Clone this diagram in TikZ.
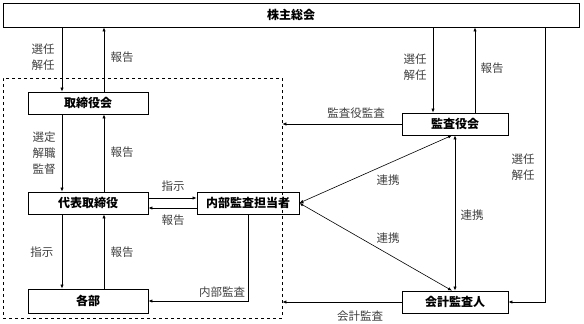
\documentclass[tikz,border=0pt]{standalone}
\usepackage{fontspec}
\setmainfont{Noto Sans CJK JP}
\usepackage{tikz}
\usetikzlibrary{arrows.meta,calc}
\definecolor{labelgray}{HTML}{404040}

\begin{document}
\begin{tikzpicture}[x=1pt, y=-1pt, every node/.style={font=\fontsize{11.5}{16}\selectfont},
    box/.style={draw, line width=0.7pt, minimum height=22pt, inner sep=0pt, font=\fontsize{12}{14}\selectfont\bfseries},
    lbl/.style={text=labelgray, align=center, inner sep=0pt},
    arr/.style={-{Latex[length=4pt,width=3.2pt]}, line width=0.6pt},
    both/.style={{Latex[length=4pt,width=3.2pt]}-{Latex[length=4pt,width=3.2pt]}, line width=0.6pt}]
    \useasboundingbox (0,0) rectangle (584,324);
    \node[box, minimum width=576pt, minimum height=24pt] (soukai) at (291,15) {株主総会};
    \node[draw, dashed, line width=0.6pt, minimum width=279pt, minimum height=240pt, inner sep=0pt] (group) at (142.5,198) {};
    \node[box, minimum width=120pt] (torishimari) at (88,103) {取締役会};
    \node[box, minimum width=120pt] (daihyo) at (88,203) {代表取締役};
    \node[box, minimum width=120pt, minimum height=24pt] (kakubu) at (88,301) {各部};
    \node[box, minimum width=102pt] (naibu) at (248,203) {内部監査担当者};
    \node[box, minimum width=106pt] (kansayaku) at (455,124) {監査役会};
    \node[box, minimum width=106pt] (kaikei) at (455,302) {会計監査人};
    \coordinate (tl) at ([xshift=-26pt]torishimari.north);
    \coordinate (tr) at ([xshift=16pt]torishimari.north);
    \coordinate (kl) at ([xshift=-22pt]kansayaku.north);
    \coordinate (kr) at ([xshift=20pt]kansayaku.north);
    \coordinate (rline) at (545,0);
    \draw[arr] (soukai.south -| tl) -- (tl);
    \draw[arr] (tr) -- (soukai.south -| tr);
    \draw[arr] (torishimari.south -| tl) -- (daihyo.north -| tl);
    \draw[arr] (daihyo.north -| tr) -- (torishimari.south -| tr);
    \draw[arr] (daihyo.south -| tl) -- (kakubu.north -| tl);
    \draw[arr] (kakubu.north -| tr) -- (daihyo.south -| tr);
    \draw[arr] ([yshift=5pt]daihyo.east) -- ([yshift=5pt]daihyo.east -| naibu.west);
    \draw[arr] ([yshift=-5pt]daihyo.east -| naibu.west) -- ([yshift=-5pt]daihyo.east);
    \draw[arr] (naibu.south) -- (naibu.south |- kakubu.east) -- (kakubu.east);
    \draw[arr] (soukai.south -| kl) -- (kl);
    \draw[arr] (kr) -- (soukai.south -| kr);
    \draw[arr] (kansayaku.west) -- (kansayaku.west -| group.east);
    \draw[arr] (kaikei.west) -- (kaikei.west -| group.east);
    \draw[arr] (soukai.south -| rline) -- (kaikei.east -| rline) -- (kaikei.east);
    \draw[both] (naibu.east) -- ([xshift=-3pt]kansayaku.south);
    \draw[both] (naibu.east) -- ([xshift=-3pt]kaikei.north);
    \draw[both] (kansayaku.south) -- (kaikei.north);
    \node[lbl] (l1) at (43,57) {選任\\解任};
    \node[lbl] (l2) at (122,57) {報告};
    \node[lbl] (l3) at (44,153) {選定\\解職\\監督};
    \node[lbl] (l4) at (122,152) {報告};
    \node[lbl] (l5) at (173,186) {指示};
    \node[lbl] (l6) at (173,220) {報告};
    \node[lbl] (l7) at (42,252) {指示};
    \node[lbl] (l8) at (122,252) {報告};
    \node[lbl] (l9) at (222,292) {内部監査};
    \node[lbl] (l10) at (356,113) {監査役監査};
    \node[lbl] (l11) at (415,67) {選任\\解任};
    \node[lbl] (l12) at (492,68) {報告};
    \node[lbl] (l13) at (388,180) {連携};
    \node[lbl] (l14) at (388,238) {連携};
    \node[lbl] (l15) at (472,215) {連携};
    \node[lbl] (l16) at (523,167) {選任\\解任};
    \node[lbl] (l17) at (360,316) {会計監査};
\end{tikzpicture}
\end{document}
